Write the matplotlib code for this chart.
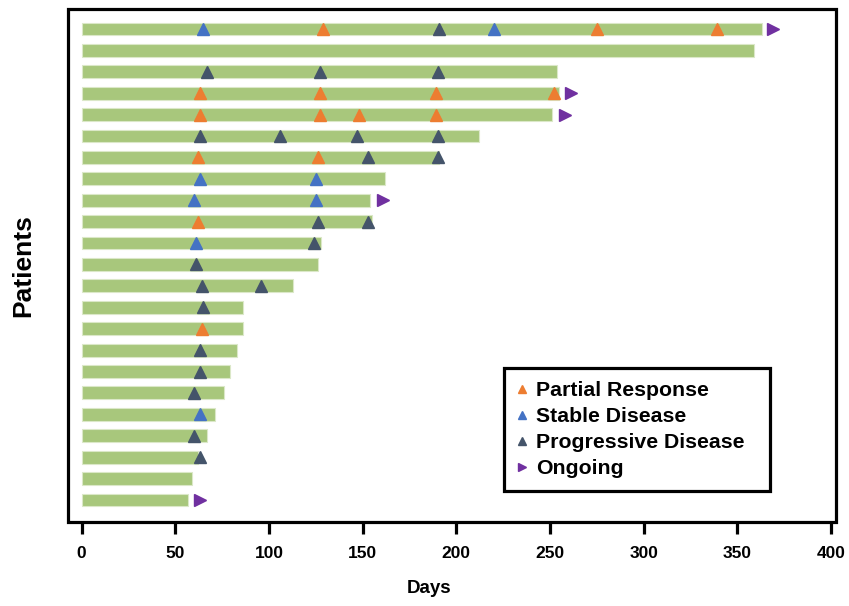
import matplotlib
matplotlib.use("Agg")
import matplotlib.pyplot as plt
from matplotlib.lines import Line2D
from matplotlib.patches import Rectangle

# ---- data ----
patients = list(range(1, 24))  # top to bottom
duration_days = [363, 359, 254, 255, 251, 212, 191, 162, 154, 155, 128, 126,
                 113, 86, 86, 83, 79, 76, 71, 67, 62, 59, 57]

pr_patient = [1, 1, 1, 4, 4, 4, 4, 5, 5, 5, 5, 7, 7, 10, 15]
pr_day = [129, 275, 339, 63, 127, 189, 252, 63, 127, 148, 189, 62, 126, 62, 64]

sd_patient = [1, 1, 8, 8, 9, 9, 11, 19]
sd_day = [65, 220, 63, 125, 60, 125, 61, 63]

pd_patient = [1, 3, 3, 3, 6, 6, 6, 6, 7, 7, 10, 10, 11, 12, 13, 13, 14, 16, 17,
              18, 20, 21]
pd_day = [191, 67, 127, 190, 63, 106, 147, 190, 153, 190, 126, 153, 124, 61,
          64, 96, 65, 63, 63, 60, 60, 63]

ongoing_patient = [1, 4, 5, 9, 23]
ongoing_day = [369, 261, 258, 161, 63]

xticks = [0, 50, 100, 150, 200, 250, 300, 350, 400]
legend_labels = ["Partial Response", "Stable Disease", "Progressive Disease", "Ongoing"]

# ---- style ----
bar_color = "#a8c77c"
c_pr = "#ed7d31"
c_sd = "#4472c4"
c_pd = "#44546a"
c_on = "#7030a0"

fig = plt.figure(figsize=(8.49, 6.06), dpi=100)
ax = fig.add_axes([68 / 849, 1 - 522 / 606, (836 - 68) / 849, (522 - 9) / 606])

ax.barh(patients, duration_days, left=0, height=0.6, color=bar_color,
        edgecolor="#dbe8c8", linewidth=0.8, zorder=2)

ms = 8
ax.plot(pr_day, pr_patient, "^", color=c_pr, ms=ms, ls="none", zorder=3)
ax.plot(sd_day, sd_patient, "^", color=c_sd, ms=ms, ls="none", zorder=3)
ax.plot(pd_day, pd_patient, "^", color=c_pd, ms=ms, ls="none", zorder=3)
ax.plot(ongoing_day, ongoing_patient, ">", color=c_on, ms=ms, ls="none", zorder=3)

ax.set_xlim(-7.3, 402.7)
ax.set_ylim(23 + 1.03, 1 - 0.934)

for s in ax.spines.values():
    s.set_visible(False)
frame = Rectangle((0, 0), 1, 1, transform=ax.transAxes, fill=False,
                  edgecolor="black", linewidth=2.3, clip_on=False, zorder=5)
ax.add_patch(frame)

ax.set_yticks([])
ax.set_xticks(xticks)
ax.set_xticklabels([str(t) for t in xticks],
                   family=["Liberation Sans Narrow", "Liberation Sans", "DejaVu Sans"],
                   fontweight="bold", fontsize=12.5)
ax.tick_params(axis="x", direction="out", length=8.5, width=2.3, pad=8.5)

ax.set_xlabel("Days", family=["Liberation Sans", "DejaVu Sans"], fontweight="bold",
              fontsize=13.5)
ax.xaxis.set_label_coords(0.47, -0.113)
ax.set_ylabel("Patients", family=["Liberation Sans", "DejaVu Sans"], fontweight="bold",
              fontsize=19)
ax.yaxis.set_label_coords(-0.043, 0.5)

handles = [
    Line2D([], [], marker="^", color=c_pr, ls="none", ms=6),
    Line2D([], [], marker="^", color=c_sd, ls="none", ms=6),
    Line2D([], [], marker="^", color=c_pd, ls="none", ms=6),
    Line2D([], [], marker=">", color=c_on, ls="none", ms=6),
]
leg = ax.legend(handles, legend_labels, loc="upper left", mode="expand",
                bbox_to_anchor=(504 / 849, 1 - 492 / 606, 266 / 849, 124 / 606),
                bbox_transform=fig.transFigure,
                prop={"family": ["Liberation Sans", "DejaVu Sans"], "weight": "bold", "size": 15.3},
                fancybox=False, framealpha=1, edgecolor="black", handlelength=0.5,
                handletextpad=0.4, labelspacing=0.33, borderpad=0.62, borderaxespad=0)
leg.get_frame().set_linewidth(2.3)
leg.set_zorder(6)

fig.savefig("out.png", dpi=100)
